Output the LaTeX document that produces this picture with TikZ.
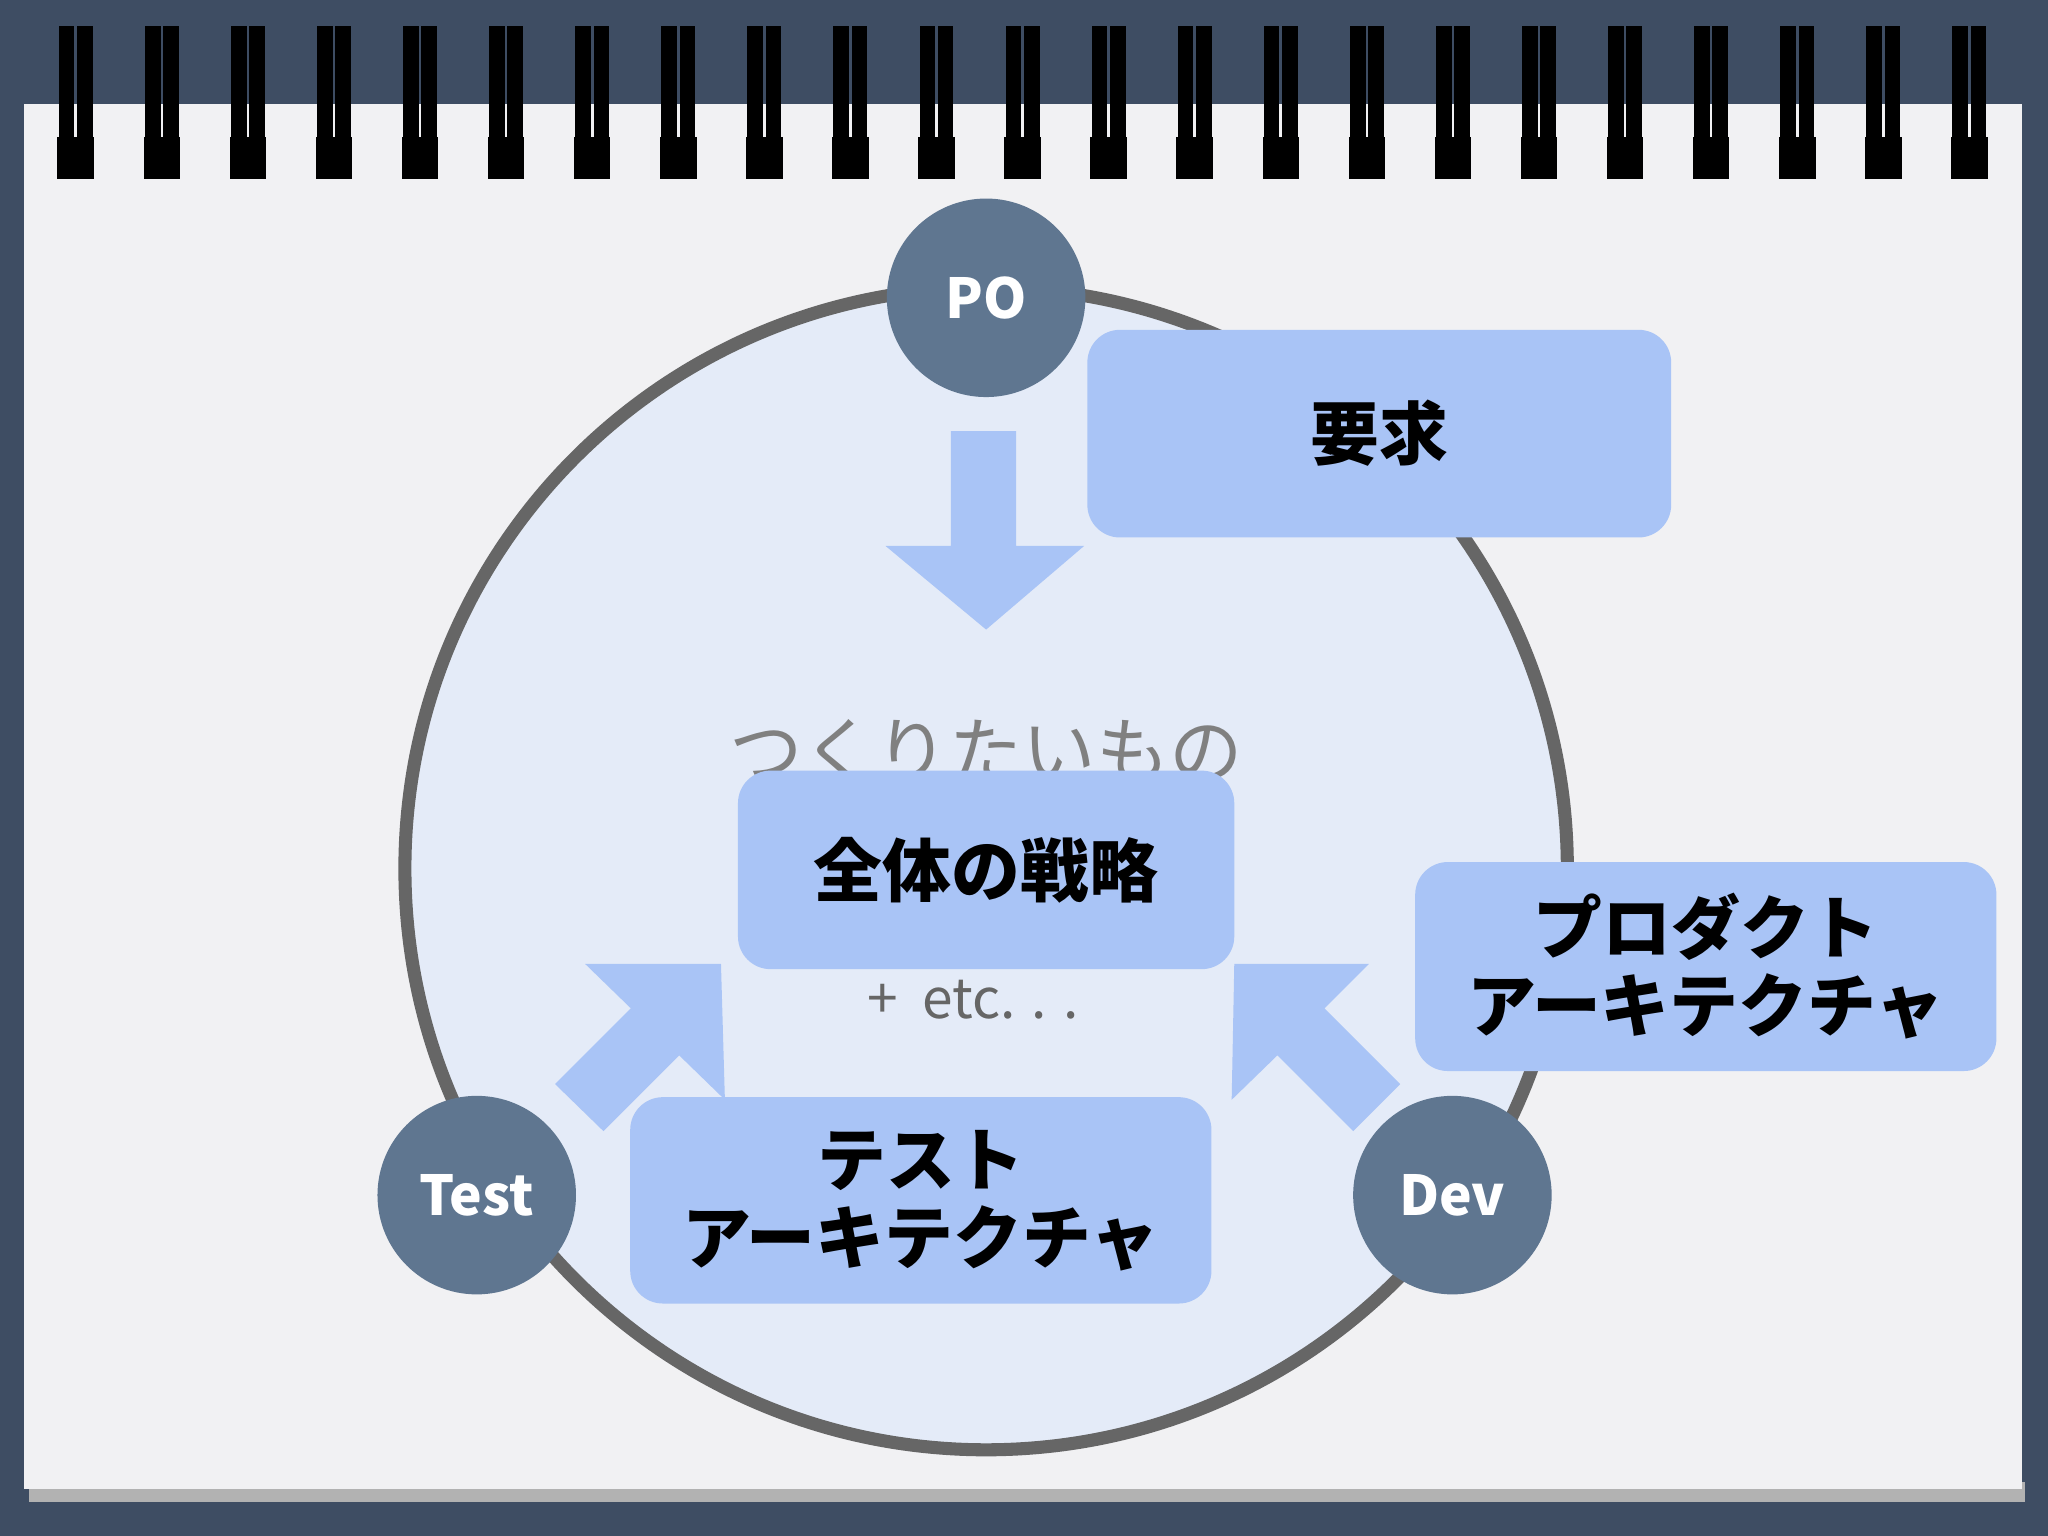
\documentclass[tikz,border=0pt]{standalone}
\usepackage{fontspec}
\newfontfamily\jp{Noto Sans CJK JP}
\usetikzlibrary{calc}
\definecolor{bgc}{HTML}{3E4D63}
\definecolor{pagec}{HTML}{F1F1F3}
\definecolor{circc}{HTML}{E4EBF8}
\definecolor{boxc}{HTML}{A9C4F6}
\definecolor{rolec}{HTML}{5F7690}
\tikzset{
 box/.style={fill=boxc,rounded corners=2.5mm,inner sep=0,font=\jp\fontsize{15}{17}\selectfont,align=center,text=black},
 role/.style={circle,fill=rolec,minimum size=15.2mm,inner sep=0,text=white,font=\jp\bfseries\fontsize{12}{14}\selectfont},
}
\begin{document}
\begin{tikzpicture}[x=0.1mm,y=-0.1mm]
\fill[bgc] (0,0) rectangle (1568,1176);
\useasboundingbox (0,0) rectangle (1568,1176);
\fill[gray!60] (22,1135) rectangle (1550,1150);
\fill[pagec] (18,80) rectangle (1548,1140);
\foreach \i in {0,...,22}{
  \pgfmathsetmacro\xx{58+\i*65.9}
  \fill[black] (\xx-14,105) rectangle (\xx+14,137);
  \draw[black,line width=1.2mm] (\xx-7,20) -- (\xx-7,120) (\xx+7,20) -- (\xx+7,120);
}
\node[circle,fill=circc,draw=gray!80!black,line width=1mm,minimum size=89mm,inner sep=0] (big) at (755,665) {};
\node[role] (po) at (755,228) {PO};
\node[role] (test) at (365,915) {Test};
\node[role] (dev) at (1112,915) {Dev};
\node[box,minimum width=44.7mm,minimum height=15.9mm] (req) at (1056,332) {\textbf{要求}};
\fill[boxc] (728,330) -- (778,330) -- (778,418) -- (830,418) -- (755,482) -- (678,418) -- (728,418) -- cycle;
\node[text=gray,font=\jp\fontsize{16}{18}\selectfont] (want) at (755,575) {つくりたいもの};
\node[box,minimum width=38mm,minimum height=15.2mm] (strat) at (755,666) {\textbf{全体の戦略}};
\node[text=gray!80!black,font=\jp\fontsize{12}{14}\selectfont] (etc) at (745,765) {+ \ etc. . .};
\fill[boxc] (552,738) -- (448,738) -- (483,772) -- (425,830) -- (462,866) -- (520,808) -- (555,842) -- cycle;
\fill[boxc] (945,738) -- (1048,738) -- (1014,772) -- (1072,830) -- (1036,866) -- (978,808) -- (943,842) -- cycle;
\node[box,minimum width=44.5mm,minimum height=15.8mm] (tbox) at (705,919) {\textbf{テスト}\\\textbf{アーキテクチャ}};
\node[box,minimum width=44.5mm,minimum height=16mm] (pbox) at (1306,740) {\textbf{プロダクト}\\\textbf{アーキテクチャ}};
\end{tikzpicture}
\end{document}
